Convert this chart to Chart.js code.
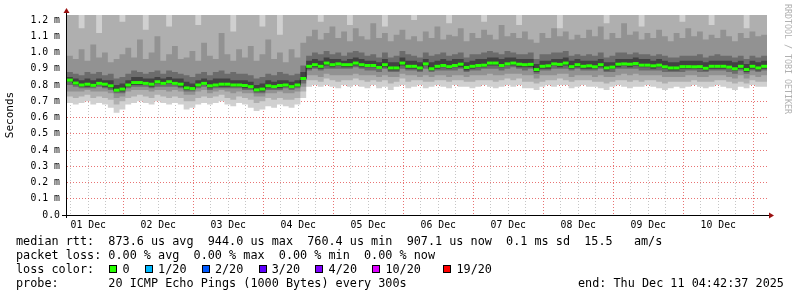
<!DOCTYPE html>
<html>
<head>
<meta charset="utf-8">
<script src="https://cdn.jsdelivr.net/npm/chart.js@4.4.1/dist/chart.umd.min.js"></script>
<style>
  body { margin: 0; background: #fff; }
  #wrap { position: relative; width: 797px; height: 297px; overflow: hidden; background: #fff; }
  #chart { position: absolute; left: 0; top: 0; }
  .txt { position: absolute; font-family: "DejaVu Sans Mono", monospace; font-size: 11.8px;
         line-height: 14.2px; white-space: pre; color: #000; }
  .box { display: inline-block; width: 6px; height: 6px; border: 1px solid #000;
         margin-left: 1px; margin-right: -1.9px; vertical-align: 0px; }
  #credit { position: absolute; left: 783px; top: 4px; writing-mode: vertical-rl;
            font-family: "DejaVu Sans Mono", monospace; font-size: 8.3px; line-height: 10px;
            color: #b0b0b0; white-space: pre; }
</style>
</head>
<body>
<div id="wrap">
  <canvas id="chart" width="797" height="297"></canvas>
  <div id="credit">RRDTOOL / TOBI OETIKER</div>
  <div class="txt" style="left:16px;top:233.5px">median rtt:  873.6 us avg  944.0 us max  760.4 us min  907.1 us now  0.1 ms sd  15.5   am/s
packet loss: 0.00 % avg  0.00 % max  0.00 % min  0.00 % now
loss color:  <span class="box" style="background:#26ff00"></span> 0  <span class="box" style="background:#00b8ff"></span> 1/20  <span class="box" style="background:#0059ff"></span> 2/20  <span class="box" style="background:#5e00ff"></span> 3/20  <span class="box" style="background:#7e00ff"></span> 4/20  <span class="box" style="background:#dd00ff"></span> 10/20   <span class="box" style="background:#ff0000"></span> 19/20
probe:       20 ICMP Echo Pings (1000 Bytes) every 300s</div>
  <div class="txt" style="left:578px;top:276px">end: Thu Dec 11 04:42:37 2025</div>
</div>
<script>
// 10 Tage, 2-Stunden-Bins (120 Stück), Werte in ms
const spanHours = 240;
const binHours = 2;
const firstGridHour = 1.2897;   // erstes 06:00 nach Start (01 Dec 04:42:37)
const dayLabels = ['01 Dec', '02 Dec', '03 Dec', '04 Dec', '05 Dec', '06 Dec', '07 Dec', '08 Dec', '09 Dec', '10 Dec'];
const yTickValues = [0, 0.1, 0.2, 0.3, 0.4, 0.5, 0.6, 0.7, 0.8, 0.9, 1.0, 1.1, 1.2];
const yTickLabels = ['0.0', '0.1 m', '0.2 m', '0.3 m', '0.4 m', '0.5 m', '0.6 m', '0.7 m', '0.8 m', '0.9 m', '1.0 m', '1.1 m', '1.2 m'];
const yMax = 1.2308;

// Median RTT
const median = [
  0.830, 0.812, 0.800, 0.805, 0.798, 0.810, 0.805, 0.795, 0.768, 0.775,
  0.800, 0.815, 0.815, 0.810, 0.805, 0.820, 0.810, 0.820, 0.810, 0.805,
  0.782, 0.778, 0.800, 0.810, 0.795, 0.800, 0.805, 0.805, 0.800, 0.800,
  0.797, 0.790, 0.770, 0.775, 0.795, 0.790, 0.797, 0.800, 0.790, 0.800,
  0.840, 0.915, 0.925, 0.915, 0.935, 0.925, 0.930, 0.925, 0.925, 0.935,
  0.925, 0.920, 0.920, 0.908, 0.925, 0.905, 0.905, 0.935, 0.915, 0.915,
  0.905, 0.930, 0.900, 0.915, 0.920, 0.913, 0.920, 0.928, 0.908, 0.915,
  0.920, 0.922, 0.935, 0.935, 0.920, 0.930, 0.935, 0.928, 0.925, 0.927,
  0.895, 0.915, 0.918, 0.930, 0.927, 0.935, 0.913, 0.925, 0.915, 0.918,
  0.912, 0.925, 0.905, 0.910, 0.928, 0.930, 0.928, 0.932, 0.922, 0.922,
  0.918, 0.922, 0.912, 0.905, 0.905, 0.913, 0.913, 0.912, 0.913, 0.903,
  0.915, 0.915, 0.915, 0.910, 0.900, 0.915, 0.895, 0.915, 0.905, 0.915
];

// Rauch (Smoke): untere Grenzen, von außen nach innen
const pMin = [
  0.69, 0.68, 0.69, 0.70, 0.68, 0.69, 0.68, 0.66, 0.63, 0.65,
  0.68, 0.69, 0.70, 0.69, 0.68, 0.70, 0.69, 0.68, 0.69, 0.68,
  0.65, 0.66, 0.68, 0.69, 0.68, 0.69, 0.70, 0.68, 0.67, 0.69,
  0.68, 0.66, 0.64, 0.65, 0.67, 0.66, 0.68, 0.67, 0.66, 0.68,
  0.72, 0.79, 0.80, 0.79, 0.80, 0.79, 0.78, 0.80, 0.79, 0.80,
  0.79, 0.78, 0.80, 0.78, 0.79, 0.77, 0.79, 0.80, 0.78, 0.79,
  0.80, 0.78, 0.79, 0.80, 0.79, 0.78, 0.80, 0.79, 0.79, 0.78,
  0.79, 0.80, 0.79, 0.78, 0.79, 0.80, 0.79, 0.80, 0.78, 0.78,
  0.77, 0.79, 0.80, 0.79, 0.80, 0.80, 0.78, 0.79, 0.80, 0.79,
  0.79, 0.78, 0.77, 0.79, 0.80, 0.79, 0.78, 0.79, 0.79, 0.80,
  0.79, 0.78, 0.77, 0.78, 0.79, 0.78, 0.79, 0.80, 0.79, 0.78,
  0.79, 0.80, 0.79, 0.78, 0.77, 0.79, 0.78, 0.80, 0.79, 0.79
];
const lo2 = [
  0.73, 0.72, 0.73, 0.74, 0.72, 0.73, 0.72, 0.71, 0.68, 0.70,
  0.72, 0.73, 0.74, 0.73, 0.72, 0.74, 0.73, 0.72, 0.73, 0.72,
  0.70, 0.70, 0.72, 0.73, 0.72, 0.73, 0.74, 0.72, 0.71, 0.73,
  0.72, 0.71, 0.69, 0.70, 0.72, 0.71, 0.72, 0.71, 0.71, 0.72,
  0.76, 0.83, 0.83, 0.82, 0.84, 0.83, 0.82, 0.83, 0.83, 0.84,
  0.83, 0.82, 0.83, 0.82, 0.83, 0.81, 0.82, 0.84, 0.82, 0.83,
  0.83, 0.82, 0.82, 0.83, 0.83, 0.82, 0.83, 0.83, 0.82, 0.82,
  0.83, 0.83, 0.83, 0.82, 0.83, 0.84, 0.83, 0.84, 0.82, 0.82,
  0.81, 0.82, 0.83, 0.83, 0.84, 0.83, 0.82, 0.83, 0.83, 0.83,
  0.82, 0.82, 0.81, 0.82, 0.83, 0.83, 0.82, 0.83, 0.82, 0.83,
  0.83, 0.82, 0.81, 0.82, 0.82, 0.82, 0.82, 0.83, 0.82, 0.82,
  0.82, 0.83, 0.83, 0.82, 0.81, 0.82, 0.81, 0.83, 0.82, 0.82
];
const lo3 = [
  0.76, 0.76, 0.76, 0.77, 0.76, 0.76, 0.76, 0.75, 0.72, 0.73,
  0.76, 0.77, 0.77, 0.77, 0.76, 0.77, 0.77, 0.76, 0.77, 0.76,
  0.74, 0.74, 0.76, 0.77, 0.75, 0.76, 0.77, 0.76, 0.75, 0.76,
  0.75, 0.75, 0.73, 0.73, 0.75, 0.75, 0.76, 0.75, 0.75, 0.76,
  0.79, 0.86, 0.86, 0.85, 0.87, 0.86, 0.86, 0.86, 0.86, 0.87,
  0.86, 0.86, 0.86, 0.85, 0.86, 0.85, 0.85, 0.87, 0.86, 0.86,
  0.85, 0.86, 0.85, 0.86, 0.86, 0.85, 0.86, 0.86, 0.85, 0.86,
  0.86, 0.86, 0.87, 0.86, 0.86, 0.87, 0.87, 0.87, 0.86, 0.86,
  0.84, 0.86, 0.86, 0.86, 0.87, 0.87, 0.85, 0.86, 0.86, 0.86,
  0.85, 0.86, 0.85, 0.85, 0.86, 0.87, 0.86, 0.87, 0.86, 0.86,
  0.86, 0.86, 0.85, 0.85, 0.85, 0.85, 0.86, 0.86, 0.85, 0.85,
  0.86, 0.86, 0.86, 0.85, 0.84, 0.86, 0.84, 0.86, 0.85, 0.86
];
const lo4 = [
  0.80, 0.79, 0.78, 0.78, 0.78, 0.79, 0.78, 0.77, 0.75, 0.75,
  0.78, 0.79, 0.79, 0.79, 0.78, 0.79, 0.79, 0.79, 0.79, 0.78,
  0.76, 0.76, 0.78, 0.79, 0.77, 0.78, 0.78, 0.78, 0.78, 0.78,
  0.77, 0.77, 0.75, 0.75, 0.77, 0.77, 0.77, 0.78, 0.77, 0.78,
  0.81, 0.89, 0.90, 0.89, 0.90, 0.90, 0.90, 0.90, 0.90, 0.91,
  0.90, 0.89, 0.89, 0.88, 0.90, 0.88, 0.88, 0.90, 0.89, 0.89,
  0.88, 0.90, 0.88, 0.89, 0.89, 0.89, 0.89, 0.90, 0.88, 0.89,
  0.89, 0.90, 0.90, 0.90, 0.89, 0.90, 0.91, 0.90, 0.89, 0.90,
  0.87, 0.89, 0.89, 0.90, 0.90, 0.90, 0.89, 0.90, 0.89, 0.89,
  0.89, 0.90, 0.88, 0.88, 0.90, 0.90, 0.90, 0.90, 0.89, 0.89,
  0.89, 0.89, 0.88, 0.88, 0.88, 0.88, 0.89, 0.89, 0.88, 0.88,
  0.89, 0.89, 0.89, 0.88, 0.87, 0.89, 0.87, 0.89, 0.88, 0.89
];
const lo5 = [
  0.82, 0.80, 0.79, 0.79, 0.79, 0.80, 0.79, 0.78, 0.76, 0.76,
  0.79, 0.80, 0.80, 0.80, 0.79, 0.81, 0.80, 0.81, 0.80, 0.79,
  0.77, 0.77, 0.79, 0.80, 0.78, 0.79, 0.79, 0.79, 0.79, 0.79,
  0.78, 0.78, 0.76, 0.76, 0.78, 0.78, 0.78, 0.79, 0.78, 0.79,
  0.83, 0.90, 0.91, 0.90, 0.92, 0.91, 0.92, 0.91, 0.91, 0.92,
  0.91, 0.91, 0.91, 0.90, 0.91, 0.89, 0.89, 0.92, 0.90, 0.90,
  0.89, 0.92, 0.89, 0.90, 0.91, 0.90, 0.91, 0.91, 0.89, 0.90,
  0.91, 0.91, 0.92, 0.92, 0.91, 0.92, 0.92, 0.91, 0.91, 0.91,
  0.88, 0.90, 0.90, 0.92, 0.91, 0.92, 0.90, 0.91, 0.90, 0.90,
  0.90, 0.91, 0.89, 0.90, 0.91, 0.92, 0.91, 0.92, 0.91, 0.91,
  0.90, 0.91, 0.90, 0.89, 0.89, 0.90, 0.90, 0.90, 0.90, 0.89,
  0.90, 0.90, 0.90, 0.90, 0.89, 0.90, 0.88, 0.90, 0.89, 0.90
];
// Rauch: obere Grenzen, von innen nach außen (über 1.23 = abgeschnitten)
const hi5 = [
  0.85, 0.84, 0.83, 0.84, 0.83, 0.84, 0.83, 0.83, 0.80, 0.81,
  0.83, 0.85, 0.85, 0.84, 0.84, 0.85, 0.84, 0.85, 0.84, 0.84,
  0.82, 0.81, 0.83, 0.84, 0.83, 0.84, 0.84, 0.84, 0.83, 0.83,
  0.83, 0.82, 0.80, 0.81, 0.83, 0.82, 0.83, 0.83, 0.82, 0.83,
  0.88, 0.95, 0.96, 0.95, 0.97, 0.96, 0.96, 0.95, 0.96, 0.97,
  0.96, 0.95, 0.95, 0.94, 0.96, 0.94, 0.94, 0.97, 0.95, 0.95,
  0.94, 0.96, 0.94, 0.95, 0.96, 0.95, 0.96, 0.96, 0.94, 0.95,
  0.96, 0.96, 0.97, 0.97, 0.96, 0.97, 0.97, 0.96, 0.96, 0.96,
  0.93, 0.95, 0.95, 0.96, 0.96, 0.97, 0.95, 0.96, 0.95, 0.95,
  0.95, 0.96, 0.94, 0.94, 0.96, 0.96, 0.96, 0.97, 0.96, 0.96,
  0.95, 0.96, 0.95, 0.94, 0.94, 0.95, 0.95, 0.95, 0.95, 0.94,
  0.95, 0.95, 0.95, 0.95, 0.94, 0.95, 0.93, 0.95, 0.94, 0.95
];
const hi4 = [
  0.88, 0.87, 0.86, 0.88, 0.87, 0.88, 0.86, 0.87, 0.84, 0.85,
  0.87, 0.89, 0.88, 0.87, 0.88, 0.89, 0.87, 0.89, 0.88, 0.87,
  0.86, 0.85, 0.87, 0.88, 0.86, 0.88, 0.89, 0.87, 0.88, 0.87,
  0.87, 0.86, 0.84, 0.85, 0.87, 0.86, 0.88, 0.87, 0.86, 0.87,
  0.92, 0.98, 1.00, 0.99, 1.01, 0.99, 1.00, 0.98, 1.00, 1.01,
  1.00, 0.98, 0.99, 0.97, 1.00, 0.97, 0.98, 1.01, 0.99, 0.98,
  0.97, 1.00, 0.98, 0.99, 1.00, 0.98, 0.99, 1.00, 0.97, 0.99,
  0.99, 1.00, 1.01, 1.00, 0.99, 1.01, 1.00, 0.99, 0.99, 1.00,
  0.96, 0.99, 0.99, 1.00, 1.00, 1.01, 0.98, 0.99, 0.98, 0.99,
  0.98, 1.00, 0.97, 0.98, 1.00, 1.00, 0.99, 1.00, 0.99, 0.99,
  0.98, 0.99, 0.98, 0.97, 0.97, 0.98, 0.98, 0.98, 0.99, 0.97,
  0.98, 0.99, 0.98, 0.98, 0.97, 0.98, 0.96, 0.98, 0.97, 0.98
];
const hi3 = [
  0.98, 0.96, 1.02, 0.95, 1.05, 0.97, 1.00, 0.94, 0.96, 0.99,
  1.03, 0.97, 1.08, 0.96, 1.00, 1.10, 0.95, 0.99, 1.04, 0.96,
  0.97, 1.01, 0.95, 1.06, 0.98, 0.96, 1.12, 0.99, 0.95, 1.02,
  0.97, 1.04, 0.95, 0.99, 1.08, 0.96, 1.00, 0.94, 1.02, 0.97,
  1.06, 1.10, 1.14, 1.08, 1.12, 1.16, 1.09, 1.13, 1.07, 1.15,
  1.10, 1.08, 1.18, 1.09, 1.12, 1.07, 1.11, 1.14, 1.08, 1.10,
  1.07, 1.13, 1.09, 1.16, 1.08, 1.11, 1.10, 1.15, 1.07, 1.12,
  1.09, 1.14, 1.11, 1.08, 1.17, 1.10, 1.12, 1.09, 1.13, 1.08,
  1.06, 1.12, 1.09, 1.15, 1.10, 1.13, 1.08, 1.11, 1.09, 1.14,
  1.10, 1.16, 1.08, 1.12, 1.09, 1.18, 1.11, 1.13, 1.08, 1.12,
  1.09, 1.14, 1.10, 1.07, 1.12, 1.09, 1.15, 1.10, 1.13, 1.08,
  1.11, 1.09, 1.14, 1.10, 1.07, 1.12, 1.09, 1.13, 1.10, 1.11
];
const hi2 = [
  1.30, 1.30, 1.15, 1.30, 1.30, 1.12, 1.30, 1.30, 1.30, 1.19,
  1.30, 1.30, 1.30, 1.14, 1.30, 1.30, 1.30, 1.16, 1.30, 1.30,
  1.30, 1.30, 1.17, 1.30, 1.30, 1.30, 1.30, 1.30, 1.13, 1.30,
  1.30, 1.30, 1.30, 1.16, 1.30, 1.30, 1.11, 1.30, 1.30, 1.30,
  1.30, 1.30, 1.30, 1.19, 1.30, 1.30, 1.30, 1.30, 1.17, 1.30,
  1.30, 1.30, 1.30, 1.30, 1.16, 1.30, 1.30, 1.30, 1.30, 1.20,
  1.30, 1.30, 1.30, 1.30, 1.30, 1.18, 1.30, 1.30, 1.30, 1.30,
  1.30, 1.19, 1.30, 1.30, 1.30, 1.30, 1.30, 1.17, 1.30, 1.30,
  1.30, 1.30, 1.30, 1.30, 1.15, 1.30, 1.30, 1.30, 1.30, 1.30,
  1.30, 1.30, 1.18, 1.30, 1.30, 1.30, 1.30, 1.30, 1.16, 1.30,
  1.30, 1.30, 1.30, 1.30, 1.30, 1.19, 1.30, 1.30, 1.30, 1.30,
  1.17, 1.30, 1.30, 1.30, 1.30, 1.30, 1.15, 1.30, 1.30, 1.30
];

// Stufen-Daten: jeder Wert gilt für sein 2h-Intervall
function toSteps(arr) {
  const pts = arr.map((v, i) => ({ x: i * binHours, y: v }));
  pts.push({ x: arr.length * binHours, y: arr[arr.length - 1] });
  return pts;
}
function toCenters(arr) {
  return arr.map((v, i) => ({ x: i * binHours + binHours / 2, y: v }));
}

function band(data, color, fill, order) {
  return {
    data: toSteps(data), stepped: 'before', borderWidth: 0, pointRadius: 0,
    backgroundColor: color, fill: fill, order: order
  };
}

const gridHours = [];
for (let h = firstGridHour; h < spanHours; h += 6) gridHours.push(h);

// Mitternacht = jede 4. Linie ab 06:00 (Index 3, 7, ...)
function isMidnight(value) {
  return Math.round((value - firstGridHour) / 6) % 4 === 3;
}

const monoFont = { family: 'DejaVu Sans Mono', size: 9.8 };
const majorGrid = 'rgba(220,40,40,0.65)';
const minorGrid = 'rgba(140,140,140,0.5)';

// Achsen + Pfeile
const axisArrows = {
  id: 'axisArrows',
  afterDraw(chart) {
    const { ctx, chartArea: a } = chart;
    ctx.save();
    ctx.strokeStyle = '#000';
    ctx.lineWidth = 1;
    ctx.beginPath();
    ctx.moveTo(a.left - 0.5, a.bottom + 3);
    ctx.lineTo(a.left - 0.5, a.top - 3);
    ctx.moveTo(a.left - 5, a.bottom + 0.5);
    ctx.lineTo(a.right + 3, a.bottom + 0.5);
    ctx.stroke();
    ctx.fillStyle = '#9a1010';
    ctx.beginPath();
    ctx.moveTo(a.left - 3.5, a.top - 2);
    ctx.lineTo(a.left + 2.5, a.top - 2);
    ctx.lineTo(a.left - 0.5, a.top - 7);
    ctx.closePath();
    ctx.fill();
    ctx.beginPath();
    ctx.moveTo(a.right + 2, a.bottom - 2.5);
    ctx.lineTo(a.right + 2, a.bottom + 3.5);
    ctx.lineTo(a.right + 7, a.bottom + 0.5);
    ctx.closePath();
    ctx.fill();
    ctx.restore();
  }
};

new Chart(document.getElementById('chart'), {
  type: 'line',
  data: {
    datasets: [
      band(pMin, '#d0d0d0', 'end', 20),      // 0
      band(lo2, 'transparent', false, 19),   // 1
      band(hi2, '#afafaf', 1, 18),           // 2
      band(lo3, 'transparent', false, 17),   // 3
      band(hi3, '#929292', 3, 16),           // 4
      band(lo4, 'transparent', false, 15),   // 5
      band(hi4, '#6c6c6c', 5, 14),           // 6
      band(lo5, 'transparent', false, 13),   // 7
      band(hi5, '#424242', 7, 12),           // 8
      {
        data: toSteps(median), stepped: 'before', borderColor: '#202020', borderWidth: 1,
        pointRadius: 0, fill: false, order: 2
      },
      {
        data: toCenters(median), showLine: false, pointStyle: 'line',
        pointRadius: 2.92, pointBorderWidth: 3, pointBorderColor: '#26ff00',
        pointBackgroundColor: '#26ff00', borderColor: '#26ff00', fill: false, order: 1
      }
    ]
  },
  options: {
    responsive: false,
    animation: false,
    events: [],
    layout: { padding: { top: 15, right: 30, bottom: 0, left: 0 } },
    plugins: { legend: { display: false }, tooltip: { enabled: false } },
    scales: {
      x: {
        type: 'linear', min: 0, max: spanHours, z: 1,
        afterFit: s => { s.height = 82; },
        afterBuildTicks: s => { s.ticks = gridHours.map(v => ({ value: v })); },
        ticks: {
          autoSkip: false, maxRotation: 0, padding: 5, font: monoFont, color: '#000',
          callback: (v, i) => (i % 4 === 1 ? dayLabels[(i - 1) / 4] : '')
        },
        grid: {
          drawTicks: false, lineWidth: 1,
          color: ctx => (ctx.tick && isMidnight(ctx.tick.value) ? majorGrid : minorGrid)
        },
        border: { display: false, dash: [1, 2] }
      },
      y: {
        min: 0, max: yMax, z: 1,
        afterFit: s => { s.width = 67; },
        afterBuildTicks: s => { s.ticks = yTickValues.map(v => ({ value: v })); },
        ticks: { padding: 7, font: monoFont, color: '#000', callback: (v, i) => yTickLabels[i] },
        grid: { drawTicks: false, lineWidth: 1, color: majorGrid },
        border: { display: false, dash: [1, 2] },
        title: {
          display: true, text: 'Seconds', color: '#000',
          font: { family: 'DejaVu Sans Mono', size: 11 }, padding: { top: 4, bottom: 0 }
        }
      }
    }
  },
  plugins: [axisArrows]
});
</script>
</body>
</html>
